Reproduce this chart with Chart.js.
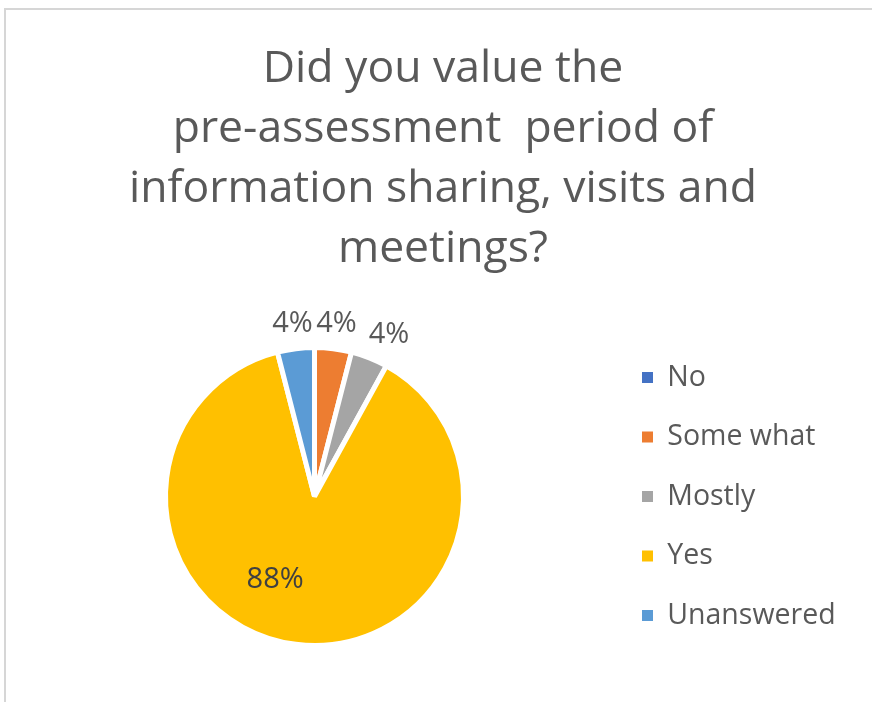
<!DOCTYPE html>
<html lang="en">
<head>
<meta charset="UTF-8">
<title>Pre-assessment period survey</title>
<script src="https://cdn.jsdelivr.net/npm/chart.js"></script>
<style>
  body {
    margin: 0;
    background: #fff;
    overflow: hidden;
  }
  .frame {
    position: absolute;
    left: 4px;
    top: 8px;
    width: 900px;
    height: 720px;
    border-left: 2px solid #d6d6d6;
    border-top: 2px solid #d6d6d6;
  }
  .wrap {
    position: absolute;
    left: 0;
    top: 0;
    width: 872px;
    height: 702px;
  }
</style>
</head>
<body>
<div class="frame"></div>
<div class="wrap"><canvas id="chart"></canvas></div>
<script>
const categories = ['No', 'Some what', 'Mostly', 'Yes', 'Unanswered'];
const responses = [0, 1, 1, 22, 1];
const titleLines = ['Did you value the', 'pre-assessment  period of', 'information sharing, visits and', 'meetings?'];

const sliceColors = ['#4472C4', '#ED7D31', '#A5A5A5', '#FFC000', '#5B9BD5'];
const textColor = '#595959';

// percentage labels: small slices outside the pie, big ones inside
const percentLabels = {
  id: 'percentLabels',
  afterDatasetsDraw(chart, args, opts) {
    const ctx = chart.ctx;
    const meta = chart.getDatasetMeta(0);
    const values = chart.data.datasets[0].data;
    const total = values.reduce((a, b) => a + b, 0);
    ctx.save();
    ctx.font = opts.size + 'px "Open Sans"';
    ctx.textAlign = 'center';
    ctx.textBaseline = 'middle';
    meta.data.forEach((arc, i) => {
      const v = values[i];
      if (!v) return;
      const p = arc.getProps(['x', 'y', 'startAngle', 'endAngle', 'outerRadius'], true);
      const share = v / total;
      const text = Math.round(share * 100) + '%';
      let mid = (p.startAngle + p.endAngle) / 2;
      let px, py;
      if (share < opts.insideMin) {
        const w = ctx.measureText(text).width;
        const h = opts.size * 0.85;
        const r = p.outerRadius + opts.gap;
        const c = Math.cos(mid), s = Math.sin(mid);
        // labels further round to the side get pushed out sideways more
        px = p.x + c * r + c * Math.abs(c) * w * opts.sidePush;
        py = p.y + s * r + s * h / 2;
        ctx.fillStyle = opts.color;
      } else {
        mid += opts.insideShift * Math.PI / 180;
        const r = p.outerRadius * opts.insideRatio;
        px = p.x + Math.cos(mid) * r;
        py = p.y + Math.sin(mid) * r;
        ctx.fillStyle = opts.insideColor;
      }
      ctx.fillText(text, px, py);
    });
    ctx.restore();
  }
};

// widen the legend box so the pie and the title sit where they should
const legendWidth = {
  id: 'legendWidth',
  beforeInit(chart, args, opts) {
    const fit = chart.legend.fit;
    chart.legend.fit = function () {
      fit.call(this);
      this.width = opts.width;
    };
  }
};

new Chart(document.getElementById('chart'), {
  type: 'pie',
  data: {
    labels: categories,
    datasets: [{
      data: responses,
      backgroundColor: sliceColors,
      borderColor: '#ffffff',
      borderWidth: 5,
      radius: 149
    }]
  },
  plugins: [percentLabels, legendWidth],
  options: {
    responsive: true,
    maintainAspectRatio: false,
    animation: false,
    layout: {
      padding: { left: 18, right: 4, top: 0, bottom: 22 }
    },
    plugins: {
      title: {
        display: true,
        text: titleLines,
        color: textColor,
        font: { family: '"Open Sans"', size: 44.5, weight: 'normal', lineHeight: '60px' },
        padding: { top: 39, bottom: 34 }
      },
      legend: {
        position: 'right',
        fullSize: false,
        labels: {
          color: textColor,
          font: { family: '"Open Sans"', size: 28.5 },
          boxWidth: 11,
          boxHeight: 11,
          padding: 31,
          generateLabels(chart) {
            const items = Chart.overrides.pie.plugins.legend.labels.generateLabels(chart);
            items.forEach(item => { item.lineWidth = 0; });
            return items;
          }
        }
      },
      tooltip: { enabled: false },
      legendWidth: { width: 257 },
      percentLabels: {
        size: 29,
        gap: 13,
        sidePush: 2.7,
        insideMin: 0.1,
        insideRatio: 0.62,
        insideShift: 18,
        color: textColor,
        insideColor: '#404040'
      }
    }
  }
});
</script>
</body>
</html>
